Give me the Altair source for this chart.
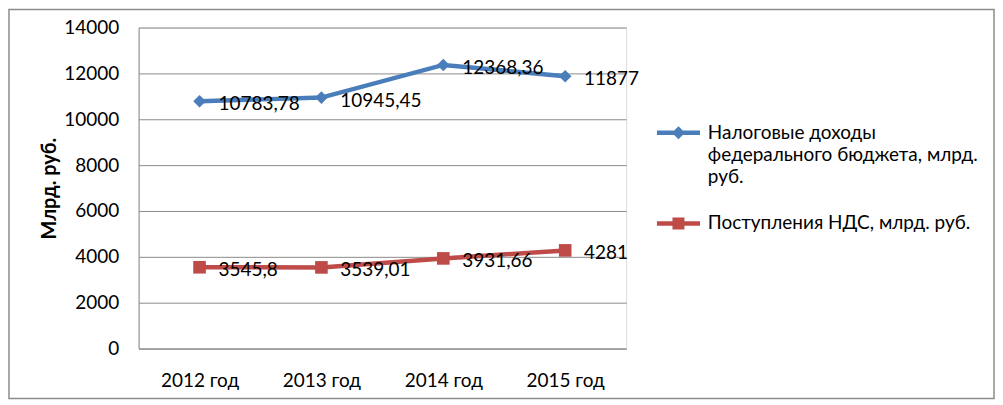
import altair as alt
import pandas as pd

years = ["2012 год", "2013 год", "2014 год", "2015 год"]
tax_values = [10783.78, 10945.45, 12368.36, 11877]
vat_values = [3545.8, 3539.01, 3931.66, 4281]
tax_labels = ["10783,78", "10945,45", "12368,36", "11877"]
vat_labels = ["3545,8", "3539,01", "3931,66", "4281"]
series_names = ["Налоговые доходы\nфедерального бюджета, млрд.\nруб.",
                "Поступления НДС, млрд. руб."]
series_colors = ["#4A7EBB", "#BE4B48"]
y_ticks = [0, 2000, 4000, 6000, 8000, 10000, 12000, 14000]

rows = []
for y, v, l in zip(years, tax_values, tax_labels):
    rows.append({"year": y, "value": v, "label": l, "series": series_names[0]})
for y, v, l in zip(years, vat_values, vat_labels):
    rows.append({"year": y, "value": v, "label": l, "series": series_names[1]})
df = pd.DataFrame(rows)

FONT = "Lato"
FS = 19

x = alt.X("year:N", sort=years, title=None,
          axis=alt.Axis(labelAngle=0, labelFontSize=FS, labelFont=FONT, labelColor="#000",
                        labelPadding=23, ticks=False, domainColor="#8c8c8c", domainWidth=1))
y = alt.Y("value:Q", title="Млрд. руб.",
          scale=alt.Scale(domain=[0, 14000], nice=False),
          axis=alt.Axis(values=y_ticks, format="d", labelFontSize=FS, labelFont=FONT,
                        labelColor="#000", labelPadding=20, ticks=False,
                        grid=True, gridColor="#8c8c8c", gridWidth=1,
                        domainColor="#8c8c8c", domainWidth=1,
                        titleFontSize=20, titleFont=FONT, titleFontWeight="bold",
                        titleColor="#000", titlePadding=4))

base = alt.Chart(df)
tax_base = base.transform_filter(alt.datum.series == series_names[0])
vat_base = base.transform_filter(alt.datum.series == series_names[1])

tax_line = tax_base.mark_line(strokeWidth=4.5, color=series_colors[0]).encode(x=x, y=y)
vat_line = vat_base.mark_line(strokeWidth=4.5, color=series_colors[1]).encode(x=x, y=y)
diamonds = tax_base.mark_point(shape="diamond", filled=True, size=160, opacity=1,
                               color=series_colors[0]).encode(x=x, y=y)
squares = vat_base.mark_point(shape="square", filled=True, size=160, opacity=1,
                              color=series_colors[1]).encode(x=x, y=y)

texts = base.mark_text(align="left", baseline="middle", dx=19, dy=3, fontSize=FS,
                       font=FONT, color="#000").encode(x=x, y=y, text="label:N")

diamond_path = "M-3.6,-0.37 L3.6,-0.37 L3.6,0.37 L-3.6,0.37 Z M0,-1.1 L1.1,0 L0,1.1 L-1.1,0 Z"
square_path = "M-3.6,-0.37 L3.6,-0.37 L3.6,0.37 L-3.6,0.37 Z M-1,-1 L1,-1 L1,1 L-1,1 Z"

legend_layer = base.mark_point(filled=True, opacity=1).encode(
    x=alt.value(-3000), y=alt.value(-3000),
    color=alt.Color("series:N", sort=series_names,
                    scale=alt.Scale(domain=series_names, range=series_colors),
                    legend=alt.Legend(title=None, orient="none", legendX=532, legendY=96,
                                      labelFontSize=FS, labelFont=FONT, labelColor="#000",
                                      labelLimit=400, labelOffset=20, symbolSize=144,
                                      symbolOpacity=1, symbolStrokeWidth=0, rowPadding=27,
                                      labelExpr="split(datum.label, '\\n')")),
    shape=alt.Shape("series:N", sort=series_names,
                    scale=alt.Scale(domain=series_names, range=[diamond_path, square_path])),
)

frame = alt.Chart(alt.Data(values=[{}])).mark_rect(
    fill=None, stroke="#8c8c8c", strokeWidth=1.5
).encode(x=alt.value(-130), x2=alt.value(858), y=alt.value(-18), y2=alt.value(372))

chart = alt.layer(frame, tax_line, vat_line, diamonds, squares, texts, legend_layer).properties(
    width=489, height=322,
    autosize=alt.AutoSizeParams(type="none"),
    padding={"left": 131, "top": 19, "right": 370, "bottom": 51},
).configure_view(stroke=None).configure(
    background="white",
    style={"guide-label": {"lineHeight": 22}},
)

chart.save("out.html", embed_options={"renderer": "svg", "actions": False})
